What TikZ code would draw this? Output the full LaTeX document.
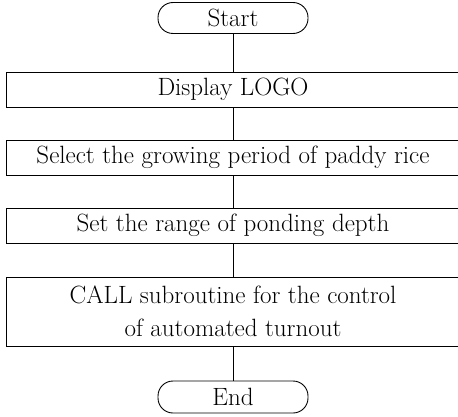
\documentclass[tikz,border=0pt]{standalone}
\usetikzlibrary{positioning}
\tikzset{
  terminal/.style={draw, rounded corners=15pt, minimum width=150pt,
                   minimum height=31pt, inner sep=0pt},
  procbox/.style={draw, minimum width=454pt, minimum height=35pt,
                  inner sep=0pt, align=center}
}
\begin{document}
\begin{tikzpicture}[line width=0.9pt, every node/.style={font=\fontsize{25}{33}\selectfont}]
  \useasboundingbox (0,0) rectangle (458pt,416pt);
  % flow of the main program
  \node[terminal] (start) at (233pt,398pt) {Start};
  \node[procbox] (logo) at (233pt,326.5pt) {Display LOGO};
  \node[procbox] (period) at (233pt,258.5pt) {Select the growing period of paddy rice};
  \node[procbox] (depth) at (233pt,190.5pt) {Set the range of ponding depth};
  \node[procbox, minimum height=69pt] (call) at (233pt,104.5pt)
    {CALL subroutine for the control\\of automated turnout};
  \node[terminal, minimum height=32pt] (finish) at (233pt,19pt) {End};

  \draw (start) -- (logo);
  \draw (logo) -- (period);
  \draw (period) -- (depth);
  \draw (depth) -- (call);
  \draw (call) -- (finish);
\end{tikzpicture}
\end{document}
